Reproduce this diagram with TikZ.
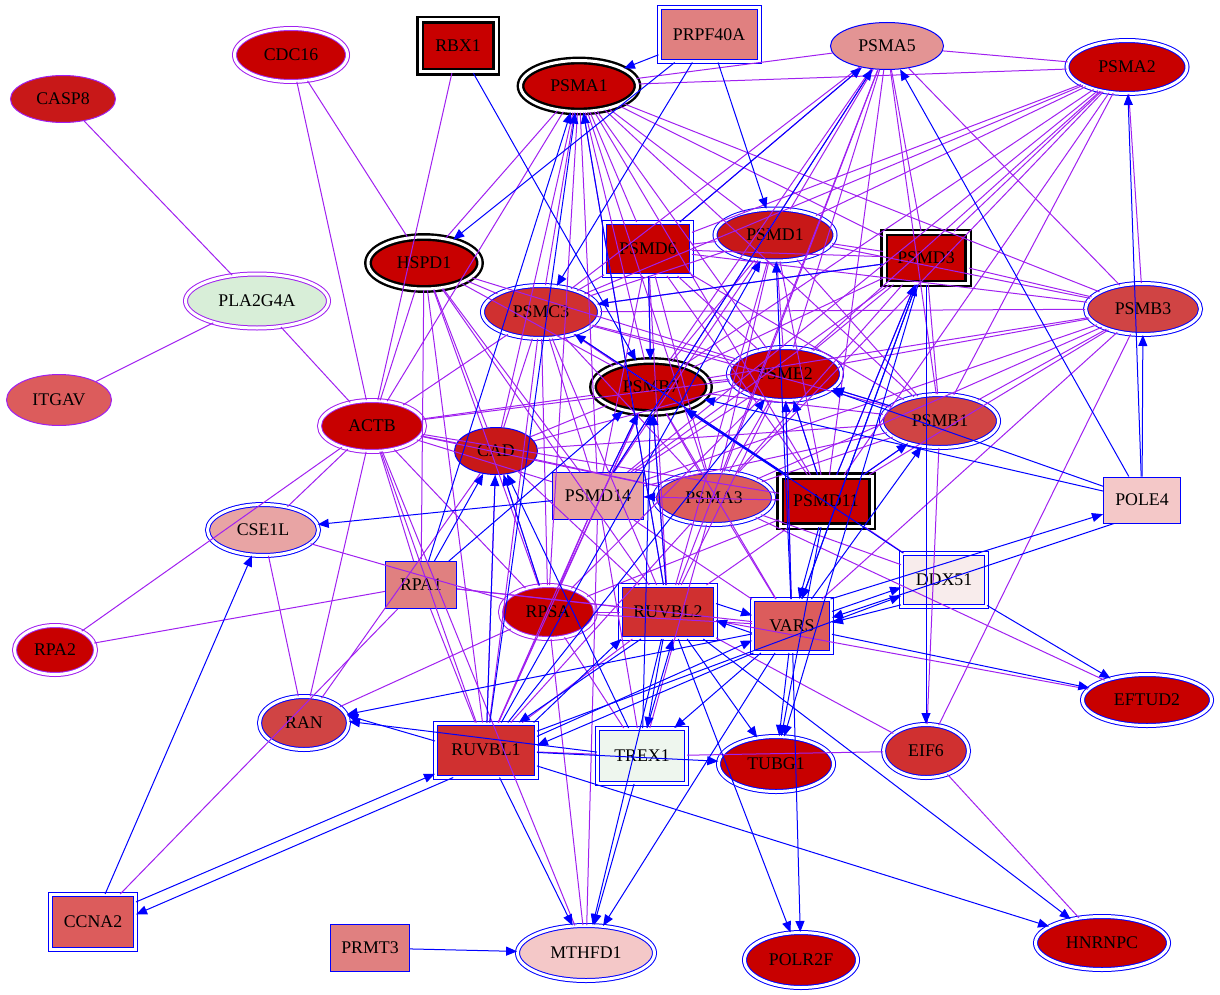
\documentclass[tikz,border=0pt]{standalone}
\usepackage{fontspec}
\setmainfont{Liberation Serif}
\usetikzlibrary{shapes.geometric,arrows.meta}

\definecolor{edgep}{HTML}{A020F0}
\definecolor{edgeb}{HTML}{0000FF}
\definecolor{fA}{HTML}{C80000}
\definecolor{fB}{HTML}{C81818}
\definecolor{fC}{HTML}{D03030}
\definecolor{fD}{HTML}{D04444}
\definecolor{fE}{HTML}{DC5C5C}
\definecolor{fF}{HTML}{E08080}
\definecolor{fG}{HTML}{E39494}
\definecolor{fH}{HTML}{E8A4A4}
\definecolor{fI}{HTML}{F4C8C8}
\definecolor{fJ}{HTML}{F8ECEC}
\definecolor{fK}{HTML}{EEF6EE}
\definecolor{fL}{HTML}{D8EED8}
\newcommand\genefont{\fontsize{8.9}{10}\selectfont}

\begin{document}
\begin{tikzpicture}[x=0.5pt,y=-0.5pt,
 gene/.style={inner sep=0pt, font=\genefont, text=black},
 ov/.style={gene, ellipse},
 bx/.style={gene, rectangle},
 sz/.style 2 args={minimum width=#1*0.5pt, minimum height=#2*0.5pt},
 onep/.style={draw=edgep, line width=0.5pt},
 oneb/.style={draw=edgeb, line width=0.5pt},
 twop/.style={draw=edgep, double=white, double distance=1.5pt, line width=0.5pt},
 twob/.style={draw=edgeb, double=white, double distance=1.5pt, line width=0.5pt},
 twok/.style={draw=black, double=white, double distance=1.5pt, line width=1.2pt},
 pl/.style={edgep, line width=0.5pt},
 ar/.style={edgeb, line width=0.5pt, -{Triangle[length=5.5pt,width=4.5pt]}}]
\useasboundingbox (0,0) rectangle (1220,995);
%
% genes, top row
\node[ov, onep, sz={105}{47}, fill=fB] (CASP8) at (63,99) {CASP8};
\node[ov, twop, sz={113}{53}, fill=fA] (CDC16) at (291,55) {CDC16};
\node[bx, twok, sz={76}{52}, fill=fA] (RBX1) at (458,46) {RBX1};
\node[bx, twob, sz={100}{54}, fill=fF] (PRPF40A) at (709,35) {PRPF40A};
\node[ov, twok, sz={117}{51}, fill=fA] (PSMA1) at (579,86) {PSMA1};
\node[ov, oneb, sz={113}{47}, fill=fG] (PSMA5) at (887,46) {PSMA5};
\node[ov, twob, sz={120}{53}, fill=fA] (PSMA2) at (1127,67) {PSMA2};
% second band
\node[ov, twok, sz={112}{52}, fill=fA] (HSPD1) at (424,263) {HSPD1};
\node[ov, twop, sz={143}{54}, fill=fL] (PLA2G4A) at (257,301) {PLA2G4A};
\node[bx, twob, sz={87}{53}, fill=fA] (PSMD6) at (648,249) {PSMD6};
\node[ov, twob, sz={120}{52}, fill=fB] (PSMD1) at (775,235) {PSMD1};
\node[bx, twok, sz={84}{51}, fill=fA] (PSMD3) at (926,258) {PSMD3};
\node[ov, twob, sz={117}{53}, fill=fC] (PSMC3) at (541,312) {PSMC3};
\node[ov, twob, sz={115}{51}, fill=fD] (PSMB3) at (1143,309) {PSMB3};
% middle band
\node[ov, onep, sz={105}{51}, fill=fE] (ITGAV) at (59,400) {ITGAV};
\node[ov, twop, sz={105}{51}, fill=fA] (ACTB) at (372,426) {ACTB};
\node[ov, twok, sz={116}{52}, fill=fA] (PSMB7) at (651,387) {PSMB7};
\node[ov, twob, sz={113}{53}, fill=fA] (PSME2) at (785,374) {PSME2};
\node[ov, twob, sz={117}{53}, fill=fD] (PSMB1) at (940,421) {PSMB1};
\node[ov, oneb, sz={83}{47}, fill=fB] (CAD) at (496,451) {CAD};
\node[bx, oneb, sz={91}{47}, fill=fH] (PSMD14) at (598,496) {PSMD14};
\node[ov, twob, sz={119}{53}, fill=fE] (PSMA3) at (714,498) {PSMA3};
\node[bx, twok, sz={92}{50}, fill=fA] (PSMD11) at (826,501) {PSMD11};
\node[bx, oneb, sz={77}{46}, fill=fI] (POLE4) at (1142,500) {POLE4};
\node[ov, twob, sz={111}{51}, fill=fH] (CSE1L) at (263,530) {CSE1L};
\node[bx, twob, sz={85}{53}, fill=fJ] (DDX51) at (944,580) {DDX51};
\node[bx, oneb, sz={71}{47}, fill=fF] (RPA1) at (421,585) {RPA1};
\node[ov, twop, sz={95}{53}, fill=fA] (RPSA) at (548,612) {RPSA};
\node[bx, twob, sz={95}{53}, fill=fC] (RUVBL2) at (668,612) {RUVBL2};
\node[bx, twob, sz={79}{53}, fill=fE] (VARS) at (792,626) {VARS};
% lower band
\node[ov, twop, sz={81}{49}, fill=fA] (RPA2) at (55,650) {RPA2};
\node[ov, twob, sz={129}{51}, fill=fA] (EFTUD2) at (1147,700) {EFTUD2};
\node[ov, twob, sz={89}{53}, fill=fD] (RAN) at (304,723) {RAN};
\node[bx, twob, sz={101}{54}, fill=fC] (RUVBL1) at (486,750) {RUVBL1};
\node[bx, twob, sz={89}{55}, fill=fK] (TREX1) at (642,756) {TREX1};
\node[ov, twob, sz={115}{55}, fill=fA] (TUBG1) at (776,764) {TUBG1};
\node[ov, twob, sz={85}{53}, fill=fC] (EIF6) at (926,751) {EIF6};
\node[bx, twob, sz={85}{55}, fill=fE] (CCNA2) at (93,922) {CCNA2};
\node[bx, oneb, sz={79}{47}, fill=fF] (PRMT3) at (370,948) {PRMT3};
\node[ov, twob, sz={137}{55}, fill=fI] (MTHFD1) at (586,953) {MTHFD1};
\node[ov, twob, sz={113}{55}, fill=fA] (POLR2F) at (801,960) {POLR2F};
\node[ov, twob, sz={133}{53}, fill=fA] (HNRNPC) at (1102,943) {HNRNPC};
%
% proteasome block, all pairs
\foreach \a [count=\i] in {PSMA1,PSMA5,PSMA2,PSMD6,PSMD1,PSMD3,PSMC3,PSMB3,PSMB7,PSME2,PSMB1,PSMD14,PSMA3,PSMD11} {
 \foreach \b [count=\j] in {PSMA1,PSMA5,PSMA2,PSMD6,PSMD1,PSMD3,PSMC3,PSMB3,PSMB7,PSME2,PSMB1,PSMD14,PSMA3,PSMD11} {
  \ifnum\j>\i \draw[pl] (\a) -- (\b); \fi
 }
}
% other undirected links
\foreach \a/\b in {CASP8/PLA2G4A, ITGAV/PLA2G4A, PLA2G4A/ACTB, CDC16/ACTB, CDC16/HSPD1,
 RBX1/ACTB, RPA2/ACTB, RPA2/RPA1, CCNA2/RPA1,
 ACTB/HSPD1, ACTB/CSE1L, ACTB/RAN, ACTB/RUVBL1, ACTB/RPA1, ACTB/RPSA, ACTB/CAD, ACTB/PSMB7,
 ACTB/PSME2, ACTB/PSMD14, ACTB/PSMA1, ACTB/PSMC3, ACTB/MTHFD1, ACTB/PSMA3, ACTB/PSMD11,
 HSPD1/PSMA1, HSPD1/PSMB7, HSPD1/PSMC3, HSPD1/RUVBL1, HSPD1/RPA1, HSPD1/CAD, HSPD1/RUVBL2,
 HSPD1/PSMD14, HSPD1/RPSA, HSPD1/PSME2,
 CSE1L/RAN, CSE1L/RPSA, RAN/RPSA, RAN/CAD,
 RPA1/RUVBL1, RPA1/RUVBL2, RPA1/VARS,
 RPSA/PSMB7, RPSA/PSMA1, RPSA/PSMC3, RPSA/RUVBL2, RPSA/RUVBL1, RPSA/PSME2, RPSA/PSMD14,
 RPSA/CAD, RPSA/VARS, RPSA/MTHFD1, RPSA/TREX1, RPSA/PSMD11,
 CAD/PSMB7, CAD/PSMA1, CAD/PSME2, CAD/PSMB1, CAD/PSMA3, CAD/RUVBL2, CAD/RUVBL1, CAD/PSMC3,
 RUVBL2/PSMB7, RUVBL2/PSMD11, RUVBL2/PSMA1, RUVBL2/PSME2, RUVBL2/PSMC3, RUVBL2/RUVBL1,
 RUVBL2/EFTUD2, RUVBL2/EIF6, RUVBL2/PSMD6, RUVBL2/PSMA5, RUVBL2/PSMD1,
 RUVBL1/PSMA3, RUVBL1/PSMB7, RUVBL1/PSMC3, RUVBL1/PSMD14, RUVBL1/TREX1,
 VARS/PSMB7, VARS/PSMA3, VARS/PSMD14, VARS/PSMB3, VARS/PSME2,
 EIF6/PSMB3, EIF6/HNRNPC, EIF6/TREX1, EIF6/PSMB1, EFTUD2/PSMA3,
 DDX51/PSMD11, DDX51/PSMA3, TREX1/PSMD14, TREX1/PSMA3, MTHFD1/PSMD14}
 \draw[pl] (\a) -- (\b);
%
% directed links
\foreach \a/\b in {PRPF40A/PSMA1, PRPF40A/HSPD1, PRPF40A/PSMC3, PRPF40A/PSMD1, RBX1/PSMB7,
 POLE4/PSMA2, POLE4/PSMB3, POLE4/PSMA5, POLE4/PSMB7, POLE4/PSME2,
 DDX51/EFTUD2, VARS/EFTUD2, DDX51/PSMB7, PSMD3/EIF6, RUVBL1/DDX51,
 VARS/RAN, RUVBL2/TREX1, VARS/TREX1,
 RUVBL2/TUBG1, VARS/TUBG1, PSMD11/TUBG1, PSMD3/TUBG1, RUVBL2/POLR2F, VARS/POLR2F,
 RUVBL2/MTHFD1, VARS/MTHFD1, RUVBL1/MTHFD1, TREX1/MTHFD1, PRMT3/MTHFD1,
 RUVBL2/HNRNPC, RUVBL1/HNRNPC, RUVBL1/TUBG1,
 RUVBL1/PSMA1, RUVBL1/CAD, RUVBL1/PSMD1, RUVBL1/PSME2,
 RPA1/PSMA1, RPA1/CAD, RPA1/PSMB7, CCNA2/CSE1L, PSMD14/CSE1L, PSMD14/PSMB7, PSMD14/PSMA5,
 PSMA3/PSMD14, RPSA/CAD, TREX1/CAD, TREX1/PSMB7, RUVBL2/PSMA1, RUVBL2/PSMB7,
 PSMD6/PSMB7, PSMD6/PSMA5, PSMD3/PSMC3, PSMD11/PSMC3,
 PSMD11/PSMB1, PSMD11/PSMB7, PSMD11/PSME2, PSMD11/PSMD3, VARS/PSMD3, VARS/PSMD1,
 PSMB1/PSME2, VARS/PSME2, VARS/PSMB1, PSMD11/VARS, PSMD3/VARS}
 \draw[ar] (\a) -- (\b);
% paired arrows drawn side by side
\draw[ar] (CCNA2.25) -- (RUVBL1.205);
\draw[ar] (RUVBL1.220) -- (CCNA2.10);
\draw[ar] (RUVBL1.170) -- (RAN.10);
\draw[ar] (TREX1.175) -- (RAN.2);
\draw[ar] (RUVBL1.30) -- (RUVBL2.210);
\draw[ar] (RUVBL2.225) -- (RUVBL1.40);
\draw[ar] (RUVBL1.15) -- (VARS.200);
\draw[ar] (VARS.215) -- (RUVBL1.5);
\draw[ar] (RUVBL2.10) -- (VARS.165);
\draw[ar] (VARS.190) -- (RUVBL2.350);
\draw[ar] (TREX1.80) -- (RUVBL2.280);
\draw[ar] (VARS.20) -- (DDX51.190);
\draw[ar] (DDX51.210) -- (VARS.5);
\draw[ar] (VARS.35) -- (POLE4.200);
\draw[ar] (POLE4.220) -- (VARS.12);
\end{tikzpicture}
\end{document}
